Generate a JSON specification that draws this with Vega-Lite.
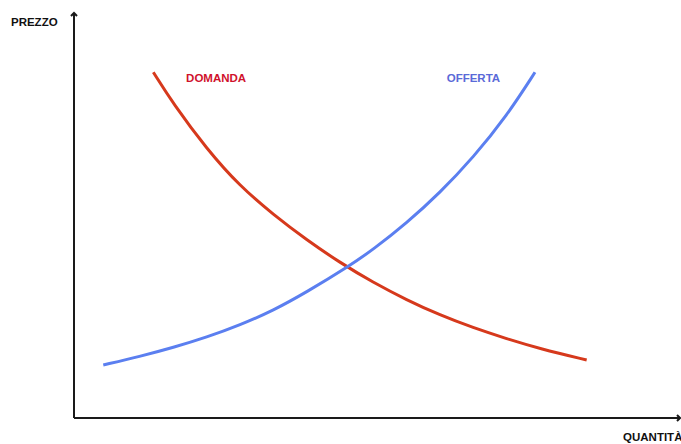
{
  "$schema": "https://vega.github.io/schema/vega-lite/v6.json",
  "width": 606,
  "height": 405,
  "autosize": {"type": "none"},
  "padding": {"left": 74, "top": 13, "right": 1, "bottom": 26},
  "background": "white",
  "config": {"view": {"stroke": null}},
  "datasets": {
    "curves": [
      {"serie": "DOMANDA", "q": 13.09, "p": 85.36},
      {"serie": "DOMANDA", "q": 16.39, "p": 77.56},
      {"serie": "DOMANDA", "q": 21.90, "p": 66.42},
      {"serie": "DOMANDA", "q": 27.39, "p": 57.21},
      {"serie": "DOMANDA", "q": 32.89, "p": 50.22},
      {"serie": "DOMANDA", "q": 38.40, "p": 43.95},
      {"serie": "DOMANDA", "q": 43.89, "p": 38.37},
      {"serie": "DOMANDA", "q": 49.34, "p": 33.48},
      {"serie": "DOMANDA", "q": 54.90, "p": 29.16},
      {"serie": "DOMANDA", "q": 60.40, "p": 25.38},
      {"serie": "DOMANDA", "q": 65.84, "p": 22.30},
      {"serie": "DOMANDA", "q": 71.40, "p": 19.56},
      {"serie": "DOMANDA", "q": 76.90, "p": 17.09},
      {"serie": "DOMANDA", "q": 84.60, "p": 14.32},
      {"serie": "OFFERTA", "q": 4.83, "p": 13.09},
      {"serie": "OFFERTA", "q": 10.89, "p": 15.19},
      {"serie": "OFFERTA", "q": 16.39, "p": 17.41},
      {"serie": "OFFERTA", "q": 21.90, "p": 19.93},
      {"serie": "OFFERTA", "q": 27.39, "p": 22.96},
      {"serie": "OFFERTA", "q": 32.89, "p": 26.54},
      {"serie": "OFFERTA", "q": 38.40, "p": 31.11},
      {"serie": "OFFERTA", "q": 45.26, "p": 37.36},
      {"serie": "OFFERTA", "q": 49.39, "p": 41.63},
      {"serie": "OFFERTA", "q": 54.90, "p": 48.15},
      {"serie": "OFFERTA", "q": 60.40, "p": 55.63},
      {"serie": "OFFERTA", "q": 65.89, "p": 64.35},
      {"serie": "OFFERTA", "q": 71.40, "p": 74.57},
      {"serie": "OFFERTA", "q": 76.07, "p": 85.36}
    ],
    "axes": [
      {"asse": "y", "q": 0, "p": 0, "q2": 0, "p2": 100},
      {"asse": "x", "q": 0, "p": 0, "q2": 100, "p2": 0}
    ],
    "arrows": [
      {"asse": "y", "q": 0, "p": 100},
      {"asse": "x", "q": 100, "p": 0}
    ],
    "labels": [
      {"testo": "DOMANDA", "tipo": "DOMANDA", "q": 18.5, "p": 83.6},
      {"testo": "OFFERTA", "tipo": "OFFERTA", "q": 61.5, "p": 83.6},
      {"testo": "PREZZO", "tipo": "asse", "q": -10.4, "p": 97.6},
      {"testo": "QUANTITÀ", "tipo": "asse", "q": 90.6, "p": -4.9}
    ]
  },
  "encoding": {
    "x": {"field": "q", "type": "quantitative", "scale": {"domain": [0, 100], "nice": false, "zero": false}, "axis": null},
    "y": {"field": "p", "type": "quantitative", "scale": {"domain": [0, 100], "nice": false, "zero": false}, "axis": null}
  },
  "layer": [
    {
      "data": {"name": "axes"},
      "mark": {"type": "rule", "color": "#1a1a1a", "strokeWidth": 2},
      "encoding": {
        "x2": {"field": "q2"},
        "y2": {"field": "p2"}
      }
    },
    {
      "data": {"name": "arrows"},
      "transform": [{"filter": "datum.asse === 'y'"}],
      "mark": {"type": "point", "shape": "M-1,1L0,0L1,1", "filled": false, "stroke": "#1a1a1a", "strokeWidth": 2, "size": 36, "opacity": 1}
    },
    {
      "data": {"name": "arrows"},
      "transform": [{"filter": "datum.asse === 'x'"}],
      "mark": {"type": "point", "shape": "M-1,-1L0,0L-1,1", "filled": false, "stroke": "#1a1a1a", "strokeWidth": 2, "size": 36, "opacity": 1}
    },
    {
      "data": {"name": "curves"},
      "mark": {"type": "line", "interpolate": "basis", "strokeWidth": 3, "strokeCap": "butt"},
      "encoding": {
        "color": {"field": "serie", "type": "nominal", "scale": {"domain": ["DOMANDA", "OFFERTA"], "range": ["#d6391c", "#5b7ff0"]}, "legend": null}
      }
    },
    {
      "data": {"name": "labels"},
      "transform": [{"filter": "datum.tipo === 'DOMANDA'"}],
      "mark": {"type": "text", "align": "left", "baseline": "middle", "font": "Liberation Sans", "fontWeight": "bold", "fontSize": 11.5, "color": "#d0122c"},
      "encoding": {"text": {"field": "testo"}}
    },
    {
      "data": {"name": "labels"},
      "transform": [{"filter": "datum.tipo === 'OFFERTA'"}],
      "mark": {"type": "text", "align": "left", "baseline": "middle", "font": "Liberation Sans", "fontWeight": "bold", "fontSize": 11.5, "color": "#5a6ad8"},
      "encoding": {"text": {"field": "testo"}}
    },
    {
      "data": {"name": "labels"},
      "transform": [{"filter": "datum.tipo === 'asse'"}],
      "mark": {"type": "text", "align": "left", "baseline": "middle", "font": "Liberation Sans", "fontWeight": "bold", "fontSize": 11.5, "color": "#111111"},
      "encoding": {"text": {"field": "testo"}}
    }
  ]
}
